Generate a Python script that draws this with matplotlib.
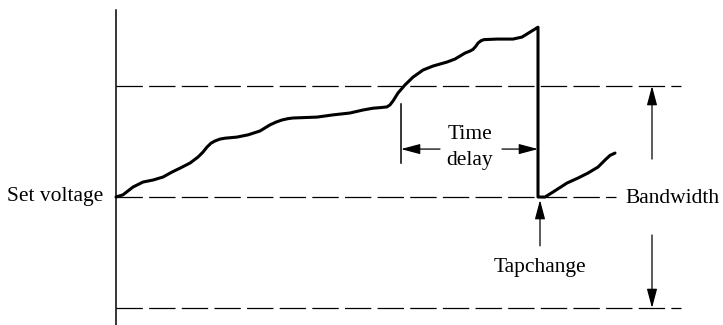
import matplotlib
matplotlib.use("Agg")
import matplotlib.pyplot as plt

plt.rcParams['font.family'] = ['Liberation Serif', 'DejaVu Serif']
plt.rcParams['lines.scale_dashes'] = False

# voltage trace (time in arbitrary units, voltage in bandwidths above set voltage)
rise_t = [0, 0.7, 1.2, 1.7, 2.7, 3.7, 4.7, 5.2, 5.6, 6.4, 7.4, 8.2, 8.7, 9.1, 9.5, 9.9,
          10.4, 10.9, 12.1, 13.2, 14.4, 15.4, 16.0, 16.6, 17.2, 17.7, 20.1, 21.7, 23.4,
          24.7, 25.7, 26.5, 27.1, 27.4, 27.7, 28.2, 28.9, 29.7, 30.7, 31.7, 33.1, 33.9,
          34.9, 35.4, 35.7, 36.0, 36.2, 36.5, 36.8, 38.1, 39.7, 40.6, 42.2]
rise_v = [0, 0.02, 0.055, 0.09, 0.135, 0.153, 0.18, 0.205, 0.225, 0.26, 0.306, 0.36,
          0.405, 0.45, 0.485, 0.505, 0.522, 0.53, 0.54, 0.56, 0.595, 0.65, 0.675, 0.694,
          0.706, 0.712, 0.72, 0.74, 0.757, 0.784, 0.80, 0.806, 0.812, 0.83, 0.865, 0.937,
          1.01, 1.08, 1.144, 1.18, 1.216, 1.243, 1.297, 1.315, 1.33, 1.36, 1.387, 1.408,
          1.418, 1.423, 1.423, 1.441, 1.53]
after_t = [42.2, 42.9, 43.7, 45.1, 46.2, 47.2, 48.2, 48.9, 49.4, 49.9]
after_v = [0, 0, 0.045, 0.126, 0.171, 0.216, 0.27, 0.333, 0.375, 0.396]

set_voltage = 0.0
band_hi, band_lo = 1.0, -1.0
t_tap = 42.2
t_delay_start = 28.5

fig = plt.figure(figsize=(7.23, 3.25), dpi=100)
ax = fig.add_axes([0, 0, 1, 1])
ax.set_xlim(-11.6, 60.7)
ax.set_ylim(-1.153, 1.775)
ax.axis('off')

# vertical axis
ax.plot([0, 0], [-1.2, 1.685], color='black', lw=1.1)

# dashed reference lines
dash = dict(color='black', lw=0.9, linestyle=(0, (19, 4.5)))
ax.plot([0, 56.5], [band_hi, band_hi], **dash)
ax.plot([0, 50.0], [set_voltage, set_voltage], **dash)
ax.plot([0, 56.5], [band_lo, band_lo], **dash)

# voltage trace with tap change drop
ax.plot(rise_t + after_t, rise_v + after_v, color='black', lw=2.2,
        solid_joinstyle='round', solid_capstyle='round')

arrow = dict(arrowstyle='-|>,head_length=0.45,head_width=0.12', color='black',
             lw=0.9, shrinkA=0, shrinkB=0, mutation_scale=26)

# time delay
ax.plot([t_delay_start, t_delay_start], [0.306, 0.838], color='black', lw=1.1)
ax.annotate('', xy=(t_delay_start, 0.432), xytext=(32.4, 0.432), arrowprops=arrow)
ax.annotate('', xy=(t_tap, 0.432), xytext=(38.6, 0.432), arrowprops=arrow)
ax.text(35.35, 0.523, 'Time', ha='center', va='baseline', fontsize=15.5)
ax.text(35.35, 0.288, 'delay', ha='center', va='baseline', fontsize=15.5)

# tap change
ax.annotate('', xy=(42.4, -0.027), xytext=(42.4, -0.44), arrowprops=arrow)
ax.text(42.4, -0.676, 'Tapchange', ha='center', va='baseline', fontsize=15.5)

# bandwidth
ax.annotate('', xy=(53.6, band_hi), xytext=(53.6, 0.342), arrowprops=arrow)
ax.annotate('', xy=(53.6, band_lo), xytext=(53.6, -0.342), arrowprops=arrow)
ax.text(50.9, -0.05, 'Bandwidth', ha='left', va='baseline', fontsize=15.5)

ax.text(-1.3, -0.04, 'Set voltage', ha='right', va='baseline', fontsize=15.5)

fig.savefig('out.png', dpi=100)
